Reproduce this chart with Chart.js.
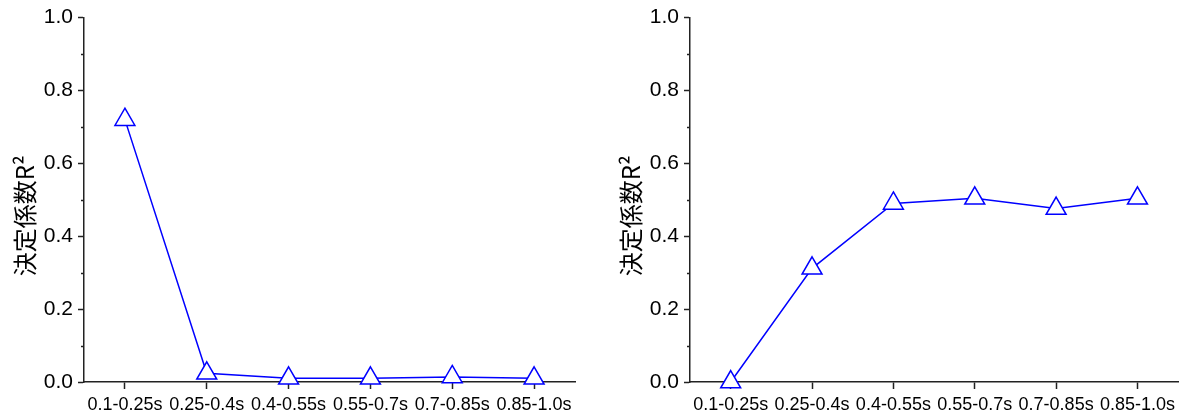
<!DOCTYPE html>
<html>
<head>
<meta charset="utf-8">
<script src="https://cdn.jsdelivr.net/npm/chart.js@4"></script>
<style>
  html, body { margin: 0; padding: 0; background: #fff; }
  body { width: 1180px; height: 415px; position: relative; overflow: hidden; }
  #left { position: absolute; left: 0; top: 0; }
  #right { position: absolute; left: 606px; top: 0; }
</style>
</head>
<body>
<canvas id="left" width="606" height="415"></canvas>
<canvas id="right" width="574" height="415"></canvas>
<script>
// time windows on the x axis
const windows = ['0.1-0.25s', '0.25-0.4s', '0.4-0.55s', '0.55-0.7s', '0.7-0.85s', '0.85-1.0s'];

// R^2 for each window
const r2Left = [0.72, 0.024, 0.010, 0.010, 0.014, 0.010];
const r2Right = [0.0, 0.312, 0.49, 0.504, 0.476, 0.504];

// y axis ticks
const yMajorTicks = [0.0, 0.2, 0.4, 0.6, 0.8, 1.0];
const yMinorTicks = [0.1, 0.3, 0.5, 0.7, 0.9];

const yTitle = '決定係数R²';

const axisColor = '#222';
const lineColor = '#0000ff';

// short outward ticks between the labelled ones
const minorTicks = {
  id: 'minorTicks',
  afterDraw(chart) {
    const y = chart.scales.y;
    const ctx = chart.ctx;
    ctx.save();
    ctx.strokeStyle = axisColor;
    ctx.lineWidth = 1.5;
    yMinorTicks.forEach(v => {
      const py = Math.round(y.getPixelForValue(v)) + 0.5;
      ctx.beginPath();
      ctx.moveTo(y.right - 3, py);
      ctx.lineTo(y.right, py);
      ctx.stroke();
    });
    ctx.restore();
  }
};

// y title, sitting a little below the middle of the axis like the original
const yAxisTitle = {
  id: 'yAxisTitle',
  afterDraw(chart) {
    const y = chart.scales.y;
    const ctx = chart.ctx;
    ctx.save();
    ctx.translate(y.left + 25, (y.top + y.bottom) / 2 + 16);
    ctx.rotate(-Math.PI / 2);
    ctx.fillStyle = '#000';
    ctx.font = "24px 'Noto Sans CJK JP', sans-serif";
    ctx.textAlign = 'center';
    ctx.textBaseline = 'middle';
    ctx.fillText(yTitle, 0, 0);
    ctx.restore();
  }
};

function makeChart(id, values, padRight) {
  const ctx = document.getElementById(id).getContext('2d');
  return new Chart(ctx, {
    type: 'line',
    data: {
      labels: windows,
      datasets: [{
        data: values,
        borderColor: lineColor,
        borderWidth: 1.5,
        tension: 0,
        pointStyle: 'triangle',
        pointRadius: 11.5,
        pointBorderWidth: 1.5,
        pointBorderColor: lineColor,
        pointBackgroundColor: '#fff',
        clip: false
      }]
    },
    options: {
      responsive: false,
      animation: false,
      layout: { autoPadding: false, padding: { top: 17, right: padRight, bottom: 0, left: 0 } },
      plugins: { legend: { display: false }, tooltip: { enabled: false } },
      scales: {
        x: {
          offset: true,
          grid: { offset: false, drawOnChartArea: false, tickLength: 7, tickColor: axisColor, tickWidth: 1.5 },
          border: { color: axisColor, width: 1.5 },
          ticks: {
            color: '#000',
            font: { family: "'Liberation Sans', Arial, sans-serif", size: 18 },
            maxRotation: 0,
            autoSkip: false,
            padding: 5
          },
          afterFit: s => { s.height = 33; }
        },
        y: {
          min: 0,
          max: 1,
          grid: { drawOnChartArea: false, tickLength: 6, tickColor: axisColor, tickWidth: 1.5 },
          border: { color: axisColor, width: 1.5 },
          ticks: {
            color: '#000',
            font: { family: "'Liberation Sans', Arial, sans-serif", size: 21 },
            padding: 5,
            callback: v => v.toFixed(1)
          },
          afterBuildTicks: s => { s.ticks = yMajorTicks.map(v => ({ value: v })); },
          afterFit: s => { s.width = 84; }
        }
      }
    },
    plugins: [minorTicks, yAxisTitle]
  });
}

makeChart('left', r2Left, 31);
makeChart('right', r2Right, 0);
</script>
</body>
</html>
